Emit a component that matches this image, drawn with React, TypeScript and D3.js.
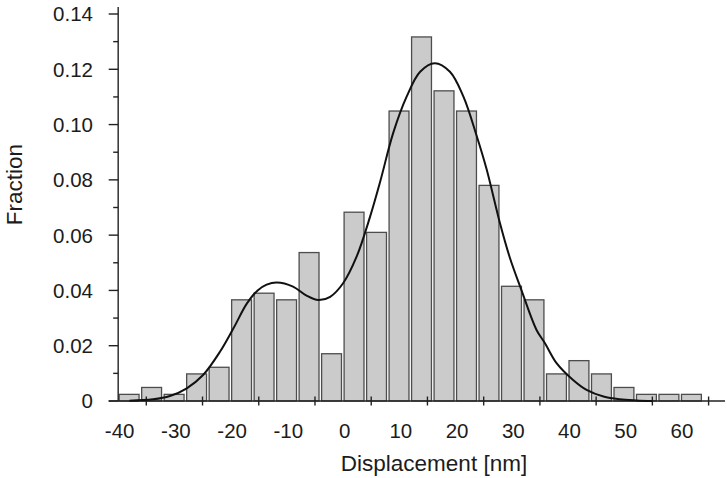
import React from "react";
import * as d3 from "d3";

// Histogram bins (left edge, nm), bin width 4 nm
const binStarts = [-40, -36, -32, -28, -24, -20, -16, -12, -8, -4, 0, 4, 8, 12, 16, 20, 24, 28, 32, 36, 40, 44, 48, 52, 56, 60];
const fractions = [0.0024, 0.0049, 0.0024, 0.0098, 0.0122, 0.0366, 0.039, 0.0366, 0.0537, 0.0171, 0.0683, 0.061, 0.1049, 0.1317, 0.1122, 0.1049, 0.078, 0.0415, 0.0366, 0.0098, 0.0146, 0.0098, 0.0049, 0.0024, 0.0024, 0.0024];
const binWidth = 4;

// Fitted curve
const curveX = [-38, -33.8, -30.8, -27.8, -24.9, -21.9, -19.5, -17.1, -15.2, -13.6, -11.8, -8.9, -6.5, -4.4, -2.3, 0.0, 2.4, 4.8, 6.6, 8.9, 11.3, 13.7, 16.3, 19.0, 21.4, 23.8, 25.5, 27.9, 29.6, 31.7, 34.4, 35.9, 38.0, 40.9, 43.3, 46.3, 49.2, 52.2, 55];
const curveY = [0.0001, 0.0006, 0.0018, 0.0046, 0.0094, 0.0178, 0.0263, 0.0353, 0.0400, 0.0421, 0.0429, 0.0414, 0.0381, 0.0365, 0.0377, 0.0426, 0.0522, 0.0667, 0.0794, 0.0969, 0.1101, 0.1191, 0.1222, 0.1191, 0.1101, 0.0956, 0.084, 0.0643, 0.0522, 0.0402, 0.0257, 0.0209, 0.0136, 0.0076, 0.004, 0.0016, 0.0006, 0.0002, 0.0];

const xLabelValues = [-40, -30, -20, -10, 0, 10, 20, 30, 40, 50, 60];
const xTickValues = [-35, -25, -15, -5, 5, 15, 25, 35, 45, 55, 65];
const yMajorTicks = [0, 0.02, 0.04, 0.06, 0.08, 0.1, 0.12, 0.14];
const yMinorTicks = [0.01, 0.03, 0.05, 0.07, 0.09, 0.11, 0.13];

const W = 727;
const H = 478;
const FONT = "'Liberation Sans', Arial, sans-serif";
const TXT = "#1c1c1c";

export default function App() {
  const x = d3.scaleLinear().domain([0, 10]).range([343.1, 399.33]);
  const y = d3.scaleLinear().domain([0, 0.14]).range([401, 14]);
  const xAxisStart = x(-40);
  const line = d3
    .line<number>()
    .x((_, i) => x(curveX[i]))
    .y((d) => Math.min(y(d), y(0)))
    .curve(d3.curveCatmullRom.alpha(0.5));

  const fmtY = (v: number) => (v === 0 ? "0" : v.toFixed(2));

  return (
    <svg
      width={W}
      height={H}
      style={{ position: "absolute", left: 0, top: 0, background: "#fff" }}
      fontFamily={FONT}
    >
      <rect x={0} y={0} width={W} height={H} fill="#fff" />
      {/* bars */}
      {binStarts.map((b, i) => {
        const x0 = x(b) + 1;
        const x1 = x(b + binWidth) - 1.6;
        return (
          <rect
            key={i}
            x={x0}
            y={y(fractions[i])}
            width={x1 - x0}
            height={y(0) - y(fractions[i])}
            fill="#cbcbcb"
            stroke="#4d4d4d"
            strokeWidth={1.3}
          />
        );
      })}
      {/* axes */}
      <line x1={xAxisStart} x2={xAxisStart} y1={7} y2={401} stroke="#222" strokeWidth={1.4} />
      <line x1={xAxisStart - 9.5} x2={725} y1={401} y2={401} stroke="#222" strokeWidth={1.4} />
      {yMajorTicks.map((t) => (
        <g key={"ym" + t}>
          <line x1={xAxisStart - 9.5} x2={xAxisStart} y1={y(t)} y2={y(t)} stroke="#222" strokeWidth={1.4} />
          <text x={93} y={y(t)} dy="0.36em" textAnchor="end" fontSize={20.5} fill={TXT}>
            {fmtY(t)}
          </text>
        </g>
      ))}
      {yMinorTicks.map((t) => (
        <line key={"yn" + t} x1={xAxisStart - 5} x2={xAxisStart} y1={y(t)} y2={y(t)} stroke="#222" strokeWidth={1.4} />
      ))}
      {xTickValues.map((t) => (
        <line key={"xt" + t} x1={x(t)} x2={x(t)} y1={396.5} y2={405.5} stroke="#222" strokeWidth={1.4} />
      ))}
      {xLabelValues.map((t) => (
        <text key={"xl" + t} x={x(t) + 1.5} y={437.5} textAnchor="middle" fontSize={20.5} fill={TXT}>
          {String(t)}
        </text>
      ))}
      {/* curve */}
      <path d={line(curveY) || ""} fill="none" stroke="#111" strokeWidth={2} />
      {/* titles */}
      <text x={434} y={470.5} textAnchor="middle" fontSize={22.5} fill={TXT}>
        Displacement [nm]
      </text>
      <text
        transform={`translate(21.5,184.5) rotate(-90)`}
        textAnchor="middle"
        fontSize={22.5}
        fill={TXT}
      >
        Fraction
      </text>
    </svg>
  );
}
